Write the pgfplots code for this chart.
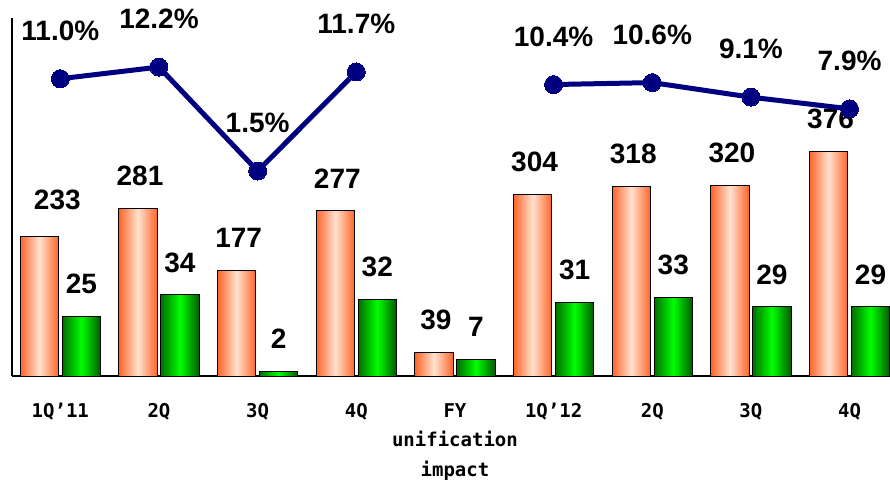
\documentclass[border=0pt]{standalone}
\usepackage{pgfplots}
\usepackage{pgfplotstable}
\pgfplotsset{compat=1.18}
\usepackage{fontspec}
\setmainfont{Liberation Sans}
\newfontfamily\tickfont{DejaVu Sans Mono}
\definecolor{orEdge}{RGB}{255,100,40}
\definecolor{orMid}{RGB}{255,226,208}
\definecolor{grEdge}{RGB}{0,110,0}
\definecolor{grMid}{RGB}{0,255,0}
\definecolor{navyl}{RGB}{0,0,128}
\tikzset{lab/.style={font=\fontsize{28}{30}\selectfont\bfseries, inner sep=0pt, anchor=south, text=black}}
\pgfplotstableread{
x o g p
0 233 25 11.0
1 281 34 12.2
2 177 2 1.5
3 277 32 11.7
4 39 7 nan
5 304 31 10.4
6 318 33 10.6
7 320 29 9.1
8 376 29 7.9
}\data
\begin{document}
\begin{tikzpicture}
\pgfplotsset{
  /pgf/number format/assume math mode=true,
  base/.style={scale only axis, width=878pt, height=358pt, xmin=-0.49, xmax=8.41,
    clip=false, at={(0,0)}, anchor=south west, unbounded coords=discard},
}
\useasboundingbox (-12pt,-104pt) rectangle (878pt,376pt);
% orange bars + axes
\begin{axis}[base, ymin=0, ymax=600,
  axis x line*=bottom, axis y line*=left,
  axis line style={-, line width=1.5pt, black},
  ytick=\empty, xtick={0,...,8}, major tick length=0pt,
  xticklabels={1Q’11,2Q,3Q,4Q,{FY\\unification\\impact},1Q’12,2Q,3Q,4Q},
  xticklabel style={anchor=north, inner sep=0pt, yshift=-27pt, align=center,
    font=\tickfont\bfseries\fontsize{19}{29.5}\selectfont},
]
\pgfplotsinvokeforeach{0,...,8}{
\addplot[ybar, bar width=38.5pt, bar shift=-21pt, draw=black, line width=1pt,
  left color=orEdge, right color=orEdge, middle color=orMid,
  x filter/.expression={abs(x-#1)<0.1 ? x : nan},
  nodes near coords={\pgfmathprintnumber[assume math mode=true]{\pgfplotspointmeta}},
  nodes near coords style={lab, yshift={22pt+5pt*(#1==0)}, xshift={-19pt+16pt*(#1==0)}}]
  table[x=x, y=o] {\data};
}
\end{axis}
% green bars
\begin{axis}[base, ymin=0, ymax=150, axis lines=none]
\pgfplotsinvokeforeach{0,...,8}{
\addplot[ybar, bar width=38.5pt, bar shift=21pt, draw=black, line width=1pt,
  left color=grEdge, right color=grEdge!80!black, middle color=grMid,
  x filter/.expression={abs(x-#1)<0.1 ? x : nan},
  nodes near coords={\pgfmathprintnumber[assume math mode=true]{\pgfplotspointmeta}},
  nodes near coords style={lab, yshift=22pt, xshift=21pt}]
  table[x=x, y=g] {\data};
}
\end{axis}
% line
\begin{axis}[base, ymin=-19.6, ymax=17.25, axis lines=none, unbounded coords=jump]
\addplot[navyl, line width=5pt, mark=*, mark size=9pt,
  mark options={fill=navyl, draw=navyl, line width=0pt},
  nodes near coords={\pgfmathprintnumber[fixed,fixed zerofill,precision=1,assume math mode=true]{\pgfplotspointmeta}\%},
  nodes near coords style={lab, yshift=38pt}]
  table[x=x, y=p] {\data};
\end{axis}
\end{tikzpicture}
\end{document}
